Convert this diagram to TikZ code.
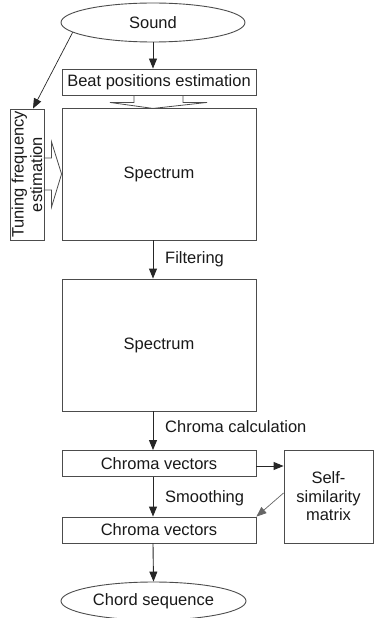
\documentclass[tikz,border=0pt]{standalone}
\usepackage{fontspec}
\setmainfont{Liberation Sans}
\usetikzlibrary{arrows.meta,shapes.geometric,calc}

\begin{document}
\begin{tikzpicture}[x=1pt,y=-1pt,
  lbl/.style={font=\fontsize{16.5}{18.5}\selectfont, text=black!90},
  stepbox/.style={lbl, draw=black!70, line width=0.9pt, rectangle, inner sep=0pt, align=center},
  endnode/.style={lbl, draw=black!70, line width=0.9pt, ellipse, inner sep=0pt},
  flow/.style={draw=black!85, line width=0.9pt, -{Triangle[length=10pt,width=8pt]}},
  thinflow/.style={draw=black!60, line width=0.7pt, -{Triangle[length=10pt,width=8pt]}},
  blockarrow/.style={draw=black!70, line width=0.8pt, line join=miter}
]
\useasboundingbox (0,0) rectangle (374,618);

% processing stages
\node[endnode, minimum width=184pt, minimum height=39pt] (sound) at (153,22.5) {Sound};
\node[stepbox, minimum width=194pt, minimum height=26pt] (beat) at (159,82) {Beat positions estimation};
\node[stepbox, minimum width=194pt, minimum height=132pt] (spec1) at (159,174) {Spectrum};
\node[stepbox, rotate=90, minimum width=131pt, minimum height=34pt] (tune) at (27,174.5) {Tuning frequency\\estimation};
\node[stepbox, minimum width=194pt, minimum height=132pt] (spec2) at (159,345) {Spectrum};
\node[stepbox, minimum width=194pt, minimum height=26pt] (chroma1) at (159,463.5) {Chroma vectors};
\node[stepbox, minimum width=194pt, minimum height=26pt] (chroma2) at (159,530) {Chroma vectors};
\node[stepbox, minimum width=89pt, minimum height=93pt] (selfsim) at (328.5,496.5) {Self-\\similarity\\matrix};
\node[endnode, minimum width=185pt, minimum height=38pt] (chord) at (153.5,601) {Chord sequence};

% step labels
\node[lbl, anchor=west, inner sep=0pt] (lfilter) at (165,259.5) {Filtering};
\node[lbl, anchor=west, inner sep=0pt] (lchroma) at (165,427) {Chroma calculation};
\node[lbl, anchor=west, inner sep=0pt] (lsmooth) at (165,498) {Smoothing};

% connectors
\draw[flow] (sound.south) -- (sound.south |- beat.north);
\draw[flow, line width=0.7pt] (sound.187) -- ([xshift=6pt]tune.east);
\draw[flow] ([xshift=-6pt]spec1.south) -- ([xshift=-6pt]spec2.north);
\draw[flow] ([xshift=-6pt]spec2.south) -- ([xshift=-6pt]chroma1.north);
\draw[flow] ([xshift=-6pt]chroma1.south) -- ([xshift=-6pt]chroma2.north);
\draw[flow] ([xshift=-6pt]chroma2.south) -- (chord.north);
\draw[flow] ([yshift=-2.5pt]chroma1.east) -- ([yshift=-2.5pt]chroma1.east -| selfsim.west);
\draw[thinflow] ([yshift=3.5pt]selfsim.west) -- (chroma2.north east);

% hollow block arrows feeding the first spectrum
\draw[blockarrow] ($(beat.south)+(-25,0)$) -- ++(0,7) -- ++(-24,0)
  -- ($(beat.south)+(-6,13)$) -- ($(beat.south)+(48,7)$) -- ++(-24,0) -- ++(0,-7);
\draw[blockarrow] ($(spec1.west)+(-18,-16)$) -- ++(8,0) -- ++(0,-16)
  -- (spec1.west) -- ($(spec1.west)+(-10,33)$) -- ++(0,-17) -- ++(-8,0);
\end{tikzpicture}
\end{document}
